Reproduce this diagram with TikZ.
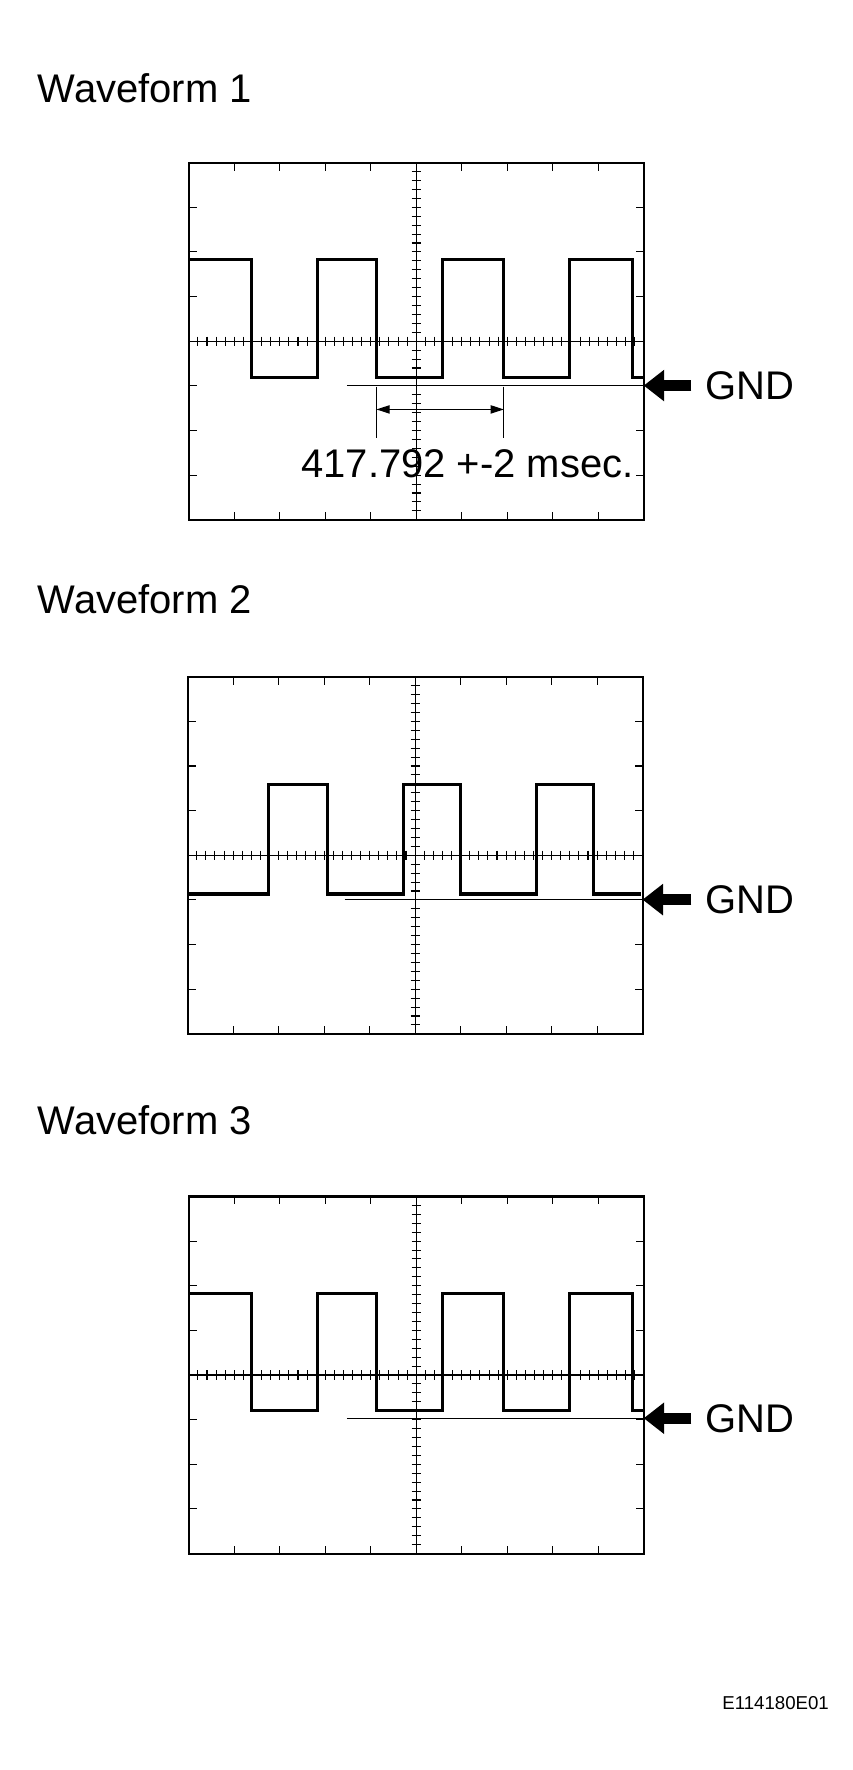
\documentclass[tikz,border=0pt]{standalone}
\usepackage{fontspec}
\setmainfont{Liberation Sans}
\usetikzlibrary{arrows.meta}
\tikzset{
  frame/.style={line width=1.6pt},
  thin/.style={line width=0.8pt},
  wave/.style={line width=2.4pt, line join=miter},
  title/.style={anchor=west, font=\fontsize{30}{36}\selectfont, inner sep=0pt},
  gnd/.style={anchor=west, font=\fontsize{30}{36}\selectfont, inner sep=0pt},
  gndarrow/.style={line width=3mm, -{Triangle[length=5.4mm, width=8mm]}},
  dim/.style={thin, {Triangle[length=3.5mm, width=2.2mm]}-{Triangle[length=3.5mm, width=2.2mm]}}
}
% one screen of the scope: ticks, axes and outline
\newcommand{\screengrid}{%
  \draw[frame] (0,0) rectangle (400,314);
  \foreach \i in {1,...,9} {
    \draw[thin] (40*\i,0) -- ++(0,7);
    \draw[thin] (40*\i,314) -- ++(0,-7);
  }
  \foreach \j in {1,...,7} {
    \draw[thin] (0,39.25*\j) -- ++(7,0);
    \draw[thin] (400,39.25*\j) -- ++(-7,0);
  }
  \draw[thin] (0,157) -- (400,157);
  \draw[thin] (200,0) -- (200,314);
  \foreach \i in {1,...,49} \draw[thin] (8*\i,153) -- (8*\i,161);
  \foreach \j in {1,...,39} \draw[thin] (196,7.85*\j) -- (204,7.85*\j);
}
\begin{document}
\begin{tikzpicture}[x=0.3mm, y=-0.3mm]
  \useasboundingbox (0,0) rectangle (750,1556.3);

  % Waveform 1
  \node[title] (title1) at (33,78) {Waveform 1};
  \begin{scope}[shift={(166,143)}]
    \screengrid
    \draw[wave] (0,85) -- (55,85) -- (55,189) -- (113,189) -- (113,85) -- (165,85)
      -- (165,189) -- (223,189) -- (223,85) -- (277,85) -- (277,189) -- (335,189)
      -- (335,85) -- (390,85) -- (390,189) -- (399,189);
    \draw[thin] (139,196) -- (400,196);
    \coordinate (g1) at (400,196);
    \node[gnd] (gnd1) at (454,196) {GND};
    \draw[thin] (165,197) -- (165,242);
    \draw[thin] (277,197) -- (277,242);
    \coordinate (d1a) at (165,217);
    \coordinate (d1b) at (277,217);
    \draw[dim] (d1a) -- (d1b);
    \node[font=\fontsize{30}{36}\selectfont, inner sep=0pt] (period) at (245,265) {417.792 +-2 msec.};
  \end{scope}
  \draw[gndarrow] (gnd1.west) ++(-12,0) -- (g1);

  % Waveform 2
  \node[title] (title2) at (33,527) {Waveform 2};
  \begin{scope}[shift={(165,595)}]
    \screengrid
    \draw[wave] (0,191) -- (71,191) -- (71,95) -- (123,95) -- (123,191) -- (190,191)
      -- (190,95) -- (240,95) -- (240,191) -- (307,191) -- (307,95) -- (357,95)
      -- (357,191) -- (399,191);
    \draw[thin] (138,196) -- (400,196);
    \coordinate (g2) at (400,196);
    \node[gnd] (gnd2) at (455,196) {GND};
  \end{scope}
  \draw[gndarrow] (gnd2.west) ++(-12,0) -- (g2);

  % Waveform 3
  \node[title] (title3) at (33,985) {Waveform 3};
  \begin{scope}[shift={(166,1052)}]
    \screengrid
    \draw[wave] (0,85) -- (55,85) -- (55,188) -- (113,188) -- (113,85) -- (165,85)
      -- (165,188) -- (223,188) -- (223,85) -- (277,85) -- (277,188) -- (335,188)
      -- (335,85) -- (390,85) -- (390,188) -- (399,188);
    \draw[thin] (139,195) -- (400,195);
    \coordinate (g3) at (400,195);
    \node[gnd] (gnd3) at (454,195) {GND};
  \end{scope}
  \draw[gndarrow] (gnd3.west) ++(-12,0) -- (g3);

  \node[anchor=east, font=\fontsize{14}{17}\selectfont, inner sep=0pt] (code) at (729,1497) {E114180E01};
\end{tikzpicture}
\end{document}
